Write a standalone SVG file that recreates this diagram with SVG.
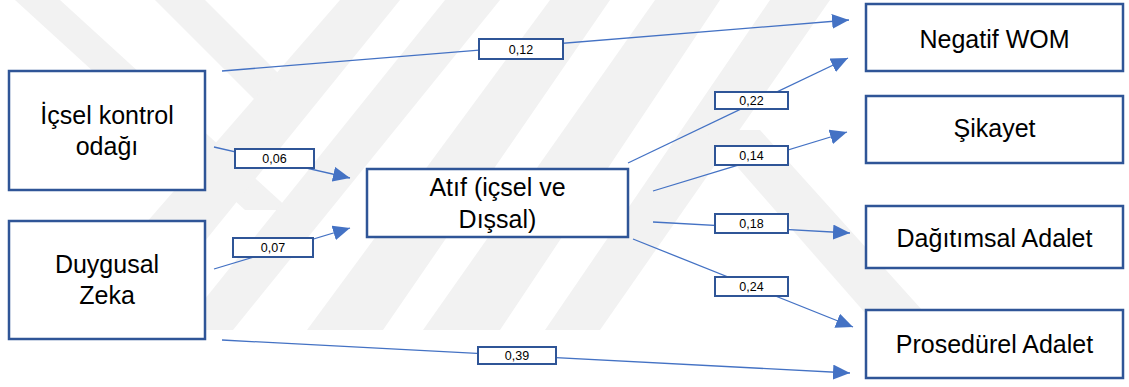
<svg xmlns="http://www.w3.org/2000/svg" width="1129" height="387" viewBox="0 0 1129 387">
<style>
.node rect{fill:#fff;stroke:#2F5597;stroke-width:2.5}
.node text{font-family:"Liberation Sans",Arial,sans-serif;font-size:25px;fill:#000;text-anchor:middle}
.lbl rect{fill:#fff;stroke:#2F5597;stroke-width:2}
.lbl text{font-family:"Liberation Sans",Arial,sans-serif;font-size:12.5px;fill:#000;text-anchor:middle}
.edge{stroke:#4472C4;stroke-width:1.3;fill:none;marker-end:url(#arr)}
.wm{fill:#f2f2f2}
</style>
<defs>
<marker id="arr" markerUnits="userSpaceOnUse" markerWidth="17" markerHeight="15" refX="17" refY="7.5" orient="auto">
<path d="M0,0 L17,7.5 L0,15 z" fill="#4472C4"/>
</marker>
<clipPath id="wmclip"><rect x="0" y="0" width="1129" height="330"/></clipPath>
</defs>
<rect width="1129" height="387" fill="#fff"/>
<g id="watermark" clip-path="url(#wmclip)">
<polygon class="wm" points="15,0 60,0 290,210 245,210"/>
<polygon class="wm" points="155,0 205,0 305,100 255,100"/>
<polygon class="wm" points="53,330 133,330 400,0 340,0"/>
<polygon class="wm" points="180,330 233,330 500,0 445,0"/>
<polygon class="wm" points="307,330 383,330 610,0 550,0"/>
<polygon class="wm" points="423,330 500,330 720,0 655,0"/>
<polygon class="wm" points="545,330 600,330 830,0 770,0"/>
<polygon class="wm" points="705,130 760,130 940,330 880,330"/>
</g>
<g id="connectors">
<line class="edge" x1="222" y1="71" x2="849" y2="20"/>
<line class="edge" x1="214" y1="147" x2="350" y2="178"/>
<line class="edge" x1="214" y1="269" x2="350" y2="228"/>
<line class="edge" x1="628" y1="163" x2="848" y2="58"/>
<line class="edge" x1="653" y1="191" x2="847" y2="132"/>
<line class="edge" x1="653" y1="222" x2="850" y2="233"/>
<line class="edge" x1="633" y1="239" x2="853" y2="327"/>
<line class="edge" x1="222" y1="340" x2="850" y2="373"/>
<g class="lbl" id="l012"><rect x="479" y="39" width="84" height="20"/><text x="521" y="53.5">0,12</text></g>
<g class="lbl" id="l006"><rect x="235" y="149" width="79" height="19"/><text x="274.5" y="163">0,06</text></g>
<g class="lbl" id="l007"><rect x="233" y="238" width="80" height="19"/><text x="273" y="252">0,07</text></g>
<g class="lbl" id="l022"><rect x="715" y="92" width="73" height="17"/><text x="751.5" y="105">0,22</text></g>
<g class="lbl" id="l014"><rect x="715" y="146" width="73" height="19"/><text x="751.5" y="160">0,14</text></g>
<g class="lbl" id="l018"><rect x="715" y="214" width="73" height="19"/><text x="751.5" y="228">0,18</text></g>
<g class="lbl" id="l024"><rect x="715" y="277" width="73" height="19"/><text x="751.5" y="291">0,24</text></g>
<g class="lbl" id="l039"><rect x="478" y="347" width="78" height="17"/><text x="517" y="360">0,39</text></g>
</g>
<g class="node" id="n-icsel"><rect x="9" y="71" width="196" height="119"/><text x="107" y="124">İçsel kontrol</text><text x="107" y="155">odağı</text></g>
<g class="node" id="n-duygusal"><rect x="9" y="221" width="196" height="118"/><text x="107" y="273">Duygusal</text><text x="107" y="304">Zeka</text></g>
<g class="node" id="n-atif"><rect x="367" y="169" width="261" height="68"/><text x="497.5" y="196">Atıf (içsel ve</text><text x="497.5" y="228">Dışsal)</text></g>
<g class="node" id="n-wom"><rect x="866" y="4" width="257" height="67"/><text x="994.5" y="48">Negatif WOM</text></g>
<g class="node" id="n-sikayet"><rect x="866" y="96" width="257" height="67"/><text x="994.5" y="137">Şikayet</text></g>
<g class="node" id="n-dagitim"><rect x="866" y="206" width="257" height="62"/><text x="994.5" y="247">Dağıtımsal Adalet</text></g>
<g class="node" id="n-prosedurel"><rect x="866" y="310" width="257" height="68"/><text x="994.5" y="353">Prosedürel Adalet</text></g>
</svg>
